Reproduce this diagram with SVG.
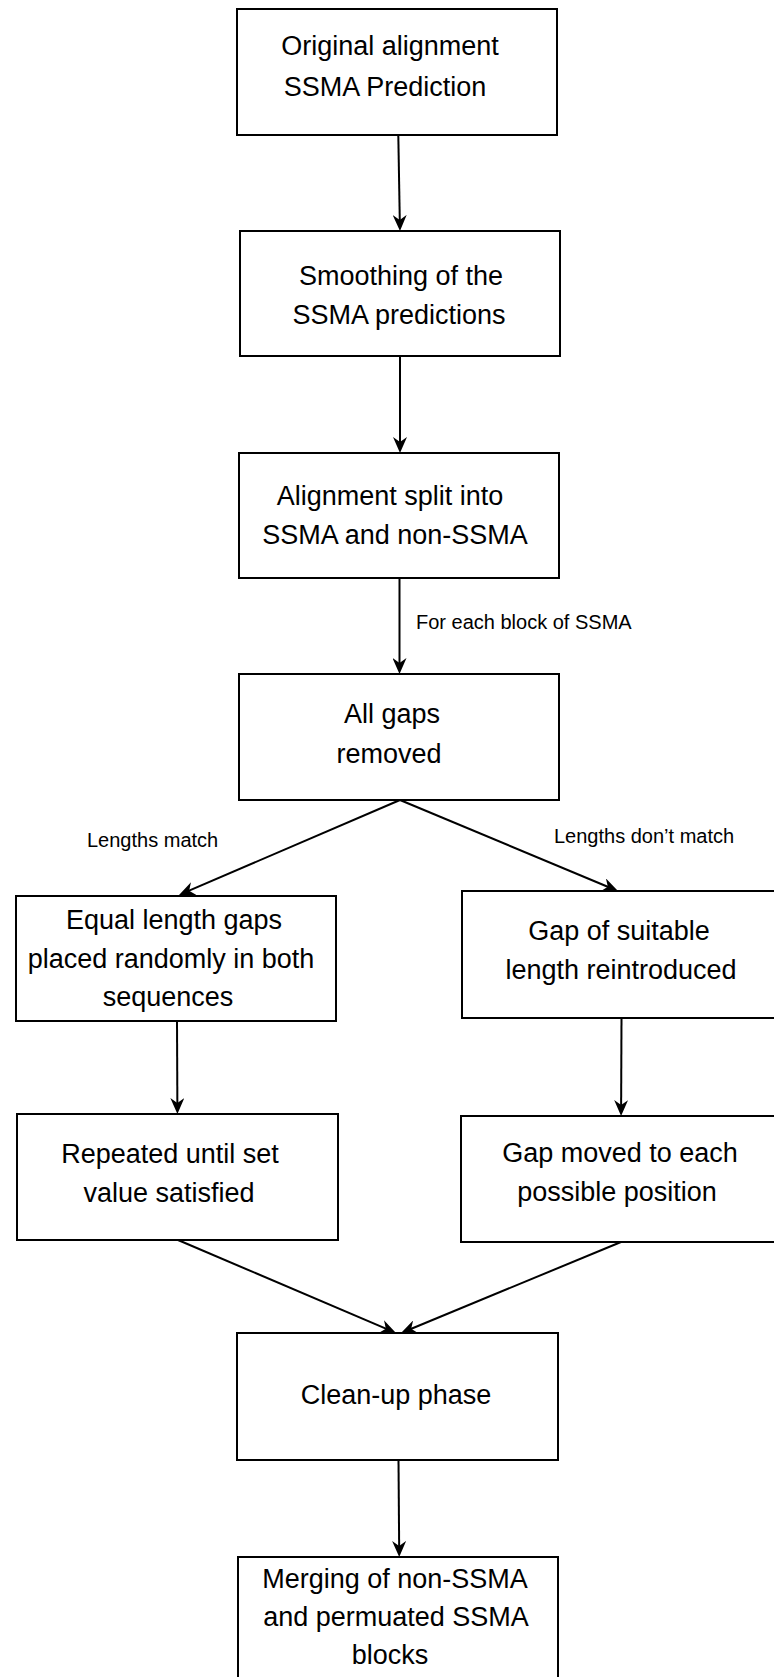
<svg xmlns="http://www.w3.org/2000/svg" width="774" height="1677" viewBox="0 0 774 1677">
  <style>
    .box { fill: #ffffff; stroke: #000000; stroke-width: 2; }
    .t { font-family: "Liberation Sans", Arial, Helvetica, sans-serif; font-size: 27px; fill: #000000; text-anchor: middle; }
    .lbl { font-family: "Liberation Sans", Arial, Helvetica, sans-serif; font-size: 20px; fill: #000000; }
    .edge { fill: none; stroke: #000000; stroke-width: 2; marker-end: url(#arrow); }
  </style>
  <defs>
    <marker id="arrow" viewBox="0 0 16 14" refX="12" refY="7" markerWidth="16" markerHeight="14" markerUnits="userSpaceOnUse" orient="auto">
      <path d="M0,0 L16,7 L0,14 L5,7 Z" fill="#000000"/>
    </marker>
  </defs>
  <rect width="774" height="1677" fill="#ffffff"/>

  <g id="connectors">
    <path class="edge" d="M398.3,135 L399.9,227"/>
    <path class="edge" d="M400,356 L400,449"/>
    <path class="edge" d="M399.5,578 L399.5,670"/>
    <path class="edge" d="M400,800 L182.7,893.4"/>
    <path class="edge" d="M400,800 L614.3,889.5"/>
    <path class="edge" d="M177,1021 L177.4,1110"/>
    <path class="edge" d="M621.5,1018 L621.1,1112"/>
    <path class="edge" d="M178,1240 L392.3,1331.4"/>
    <path class="edge" d="M621,1242 L404.7,1331.5"/>
    <path class="edge" d="M398.5,1460 L399.2,1553"/>
    <text class="lbl" x="416" y="629">For each block of SSMA</text>
    <text class="lbl" x="87" y="847">Lengths match</text>
    <text class="lbl" x="554" y="843">Lengths don’t match</text>
  </g>

  <g id="original">
    <rect class="box" x="237" y="9" width="320" height="126"/>
    <text class="t" x="390" y="55">Original alignment</text>
    <text class="t" x="385" y="96">SSMA Prediction</text>
  </g>

  <g id="smoothing">
    <rect class="box" x="240" y="231" width="320" height="125"/>
    <text class="t" x="401" y="285">Smoothing of the</text>
    <text class="t" x="399" y="324">SSMA predictions</text>
  </g>

  <g id="split">
    <rect class="box" x="239" y="453" width="320" height="125"/>
    <text class="t" x="390" y="505">Alignment split into</text>
    <text class="t" x="395" y="544">SSMA and non-SSMA</text>
  </g>

  <g id="gaps-removed">
    <rect class="box" x="239" y="674" width="320" height="126"/>
    <text class="t" x="392" y="723">All gaps</text>
    <text class="t" x="389" y="763">removed</text>
  </g>

  <g id="equal-gaps">
    <rect class="box" x="16" y="896" width="320" height="125"/>
    <text class="t" x="174" y="929">Equal length gaps</text>
    <text class="t" x="171" y="968">placed randomly in both</text>
    <text class="t" x="168" y="1006">sequences</text>
  </g>

  <g id="gap-reintroduced">
    <rect class="box" x="462" y="891" width="320" height="127"/>
    <text class="t" x="619" y="940">Gap of suitable</text>
    <text class="t" x="621" y="979">length reintroduced</text>
  </g>

  <g id="repeated">
    <rect class="box" x="17" y="1114" width="321" height="126"/>
    <text class="t" x="170" y="1163">Repeated until set</text>
    <text class="t" x="169" y="1202">value satisfied</text>
  </g>

  <g id="gap-moved">
    <rect class="box" x="461" y="1116" width="320" height="126"/>
    <text class="t" x="620" y="1162">Gap moved to each</text>
    <text class="t" x="617" y="1201">possible position</text>
  </g>

  <g id="cleanup">
    <rect class="box" x="237" y="1333" width="321" height="127"/>
    <text class="t" x="396" y="1404">Clean-up phase</text>
  </g>

  <g id="merging">
    <rect class="box" x="238" y="1557" width="320" height="126"/>
    <text class="t" x="395" y="1588">Merging of non-SSMA</text>
    <text class="t" x="396" y="1626">and permuated SSMA</text>
    <text class="t" x="390" y="1664">blocks</text>
  </g>
</svg>
